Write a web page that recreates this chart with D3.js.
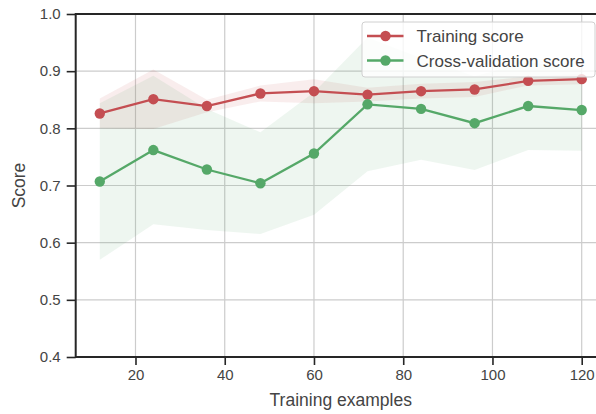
<!DOCTYPE html>
<html>
<head>
<meta charset="utf-8">
<script src="https://cdn.jsdelivr.net/npm/d3@7"></script>
<style>
  html, body { margin: 0; padding: 0; background: #fff; }
  svg { display: block; font-family: "Liberation Sans", Arial, sans-serif; }
</style>
</head>
<body>
<svg id="chart" width="596" height="414"></svg>
<script>
// Learning curve: training sizes with mean scores and their standard deviations
const trainSizes = [12, 24, 36, 48, 60, 72, 84, 96, 108, 120];
const trainMean  = [0.826, 0.851, 0.839, 0.861, 0.865, 0.859, 0.865, 0.868, 0.883, 0.886];
const trainStd   = [0.026, 0.052, 0.011, 0.014, 0.021, 0.012, 0.013, 0.013, 0.008, 0.009];
const cvMean     = [0.707, 0.762, 0.728, 0.704, 0.756, 0.842, 0.834, 0.809, 0.839, 0.832];
const cvStd      = [0.137, 0.130, 0.106, 0.089, 0.107, 0.117, 0.089, 0.082, 0.077, 0.071];
const xTicks = [20, 40, 60, 80, 100, 120];
const yTicks = [0.4, 0.5, 0.6, 0.7, 0.8, 0.9, 1.0];
const seriesNames = ["Training score", "Cross-validation score"];

const RED = "#C44E52", GREEN = "#55A868", INK = "#262626";

const svg = d3.select("#chart");
const plotL = 75.7, plotR = 605.8, plotT = 14, plotB = 357;

const x = d3.scaleLinear().domain([6.6, 125.4]).range([plotL, plotR]);
const y = d3.scaleLinear().domain([0.4, 1.0]).range([plotB, plotT]);

// grid
const grid = svg.append("g");
grid.selectAll("line.gx").data(xTicks).join("line")
  .attr("x1", d => x(d)).attr("x2", d => x(d))
  .attr("y1", plotT).attr("y2", plotB)
  .attr("stroke", "#cccccc").attr("stroke-width", 1.2);
grid.selectAll("line.gy").data(yTicks).join("line")
  .attr("x1", plotL).attr("x2", plotR)
  .attr("y1", d => y(d)).attr("y2", d => y(d))
  .attr("stroke", "#cccccc").attr("stroke-width", 1.2);

const rows = (m, s) => trainSizes.map((t, i) => ({ t, m: m[i], s: s[i] }));
const trainRows = rows(trainMean, trainStd);
const cvRows = rows(cvMean, cvStd);

const band = d3.area().x(d => x(d.t)).y0(d => y(d.m - d.s)).y1(d => y(d.m + d.s));
const line = d3.line().x(d => x(d.t)).y(d => y(d.m));

svg.append("path").datum(trainRows).attr("d", band).attr("fill", RED).attr("fill-opacity", 0.1);
svg.append("path").datum(cvRows).attr("d", band).attr("fill", GREEN).attr("fill-opacity", 0.1);

[[trainRows, RED], [cvRows, GREEN]].forEach(([data, col]) => {
  svg.append("path").datum(data).attr("d", line)
    .attr("fill", "none").attr("stroke", col).attr("stroke-width", 2.3);
  svg.append("g").selectAll("circle").data(data).join("circle")
    .attr("cx", d => x(d.t)).attr("cy", d => y(d.m)).attr("r", 5.2)
    .attr("fill", col);
});

// axes
const xAxis = d3.axisBottom(x).tickValues(xTicks).tickSize(8).tickPadding(4).tickFormat(d3.format("d"));
const yAxis = d3.axisLeft(y).tickValues(yTicks).tickSize(9).tickPadding(6).tickFormat(d3.format(".1f"));

const gx = svg.append("g").attr("transform", `translate(0,${plotB})`).call(xAxis);
const gy = svg.append("g").attr("transform", `translate(${plotL},0)`).call(yAxis);
[gx, gy].forEach(g => {
  g.select(".domain").remove();
  g.selectAll(".tick line").attr("stroke", INK).attr("stroke-width", 1.6);
  g.selectAll(".tick text").attr("fill", "#444").attr("font-size", 15)
    .attr("font-family", "Liberation Sans, Arial, sans-serif");
});

// spines
svg.append("rect").attr("x", plotL).attr("y", plotT)
  .attr("width", plotR - plotL).attr("height", plotB - plotT)
  .attr("fill", "none").attr("stroke", INK).attr("stroke-width", 2);

svg.append("text").attr("x", (plotL + plotR) / 2).attr("y", 406)
  .attr("text-anchor", "middle").attr("font-size", 17.5).attr("fill", "#444")
  .text("Training examples");
svg.append("text").attr("transform", `translate(25,${(plotT + plotB) / 2}) rotate(-90)`)
  .attr("text-anchor", "middle").attr("font-size", 17.5).attr("fill", "#444")
  .text("Score");

// legend
const lg = svg.append("g");
lg.append("rect").attr("x", 362).attr("y", 22).attr("width", 233).attr("height", 55)
  .attr("rx", 3).attr("fill", "#fff").attr("fill-opacity", 0.8)
  .attr("stroke", "#d0d0d0").attr("stroke-width", 1);
[RED, GREEN].forEach((col, i) => {
  const cy = 36 + i * 24.5;
  lg.append("line").attr("x1", 367).attr("x2", 403.5).attr("y1", cy).attr("y2", cy)
    .attr("stroke", col).attr("stroke-width", 2.3);
  lg.append("circle").attr("cx", 385.5).attr("cy", cy).attr("r", 5.2).attr("fill", col);
  lg.append("text").attr("x", 416.5).attr("y", cy + 6).attr("font-size", 17)
    .attr("fill", "#444").text(seriesNames[i]);
});
</script>
</body>
</html>
